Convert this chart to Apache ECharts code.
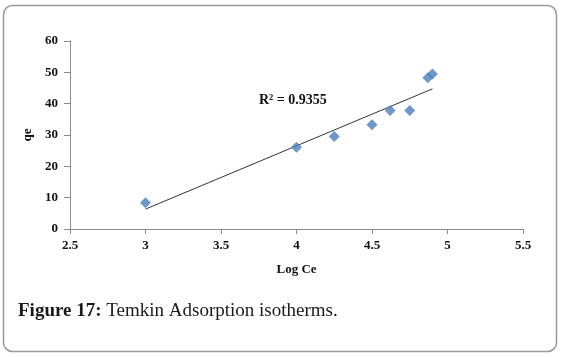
<!DOCTYPE html>
<html><head><meta charset="utf-8">
<script src="https://cdn.jsdelivr.net/npm/echarts@6/dist/echarts.min.js"></script>
<style>html,body{margin:0;padding:0;background:#fff}#c{width:561px;height:357px}</style>
</head><body><div id="c"></div>
<script>
const logCe = [3.0, 4.0, 4.25, 4.5, 4.62, 4.75, 4.87, 4.9];
const qe = [8.4, 26.1, 29.5, 33.3, 37.8, 37.8, 48.3, 49.5];
const xTicks = [2.5, 3, 3.5, 4, 4.5, 5, 5.5];
const yTicks = [0, 10, 20, 30, 40, 50, 60];
const r2Label = 'R² = 0.9355';
const caption = ['Figure 17:', ' Temkin Adsorption isotherms.'];

// least-squares trendline derived from data
const n = logCe.length;
const mx = logCe.reduce((a,b)=>a+b,0)/n, my = qe.reduce((a,b)=>a+b,0)/n;
let sxy=0,sxx=0;
for(let i=0;i<n;i++){sxy+=(logCe[i]-mx)*(qe[i]-my);sxx+=(logCe[i]-mx)**2;}
const slope=sxy/sxx, icpt=my-slope*mx;
const xmin=Math.min(...logCe), xmax=Math.max(...logCe);
const trend=[[xmin,icpt+slope*xmin],[xmax,icpt+slope*xmax]];

const chart = echarts.init(document.getElementById('c'));
const serif = '"Liberation Serif","Times New Roman",serif';
chart.setOption({
  animation:false,
  textStyle:{fontFamily:serif},
  grid:{left:70,right:38,top:41,bottom:128},
  title:{
    left:13, top:297,
    text:'{b|'+caption[0]+'}{n|'+caption[1]+'}',
    textStyle:{fontWeight:'normal',rich:{
      b:{fontFamily:serif,fontWeight:'bold',fontSize:19,color:'#1a1a1a'},
      n:{fontFamily:serif,fontWeight:'normal',fontSize:19,color:'#1a1a1a'}
    }}
  },
  xAxis:{
    type:'value', min:xTicks[0], max:xTicks[xTicks.length-1], interval:0.5,
    name:'Log Ce', nameLocation:'middle', nameGap:34,
    nameTextStyle:{fontFamily:serif,fontWeight:'bold',fontSize:13,color:'#111'},
    axisLine:{lineStyle:{color:'#8c8c8c',width:1}},
    axisTick:{show:true,length:5,lineStyle:{color:'#8c8c8c'}},
    axisLabel:{fontFamily:serif,fontWeight:'bold',fontSize:13,color:'#111',margin:10},
    splitLine:{show:false}
  },
  yAxis:{
    type:'value', min:yTicks[0], max:yTicks[yTicks.length-1], interval:10,
    name:'qe', nameLocation:'middle', nameGap:33,
    nameTextStyle:{fontFamily:serif,fontWeight:'bold',fontSize:13,color:'#111'},
    axisLine:{show:true,lineStyle:{color:'#8c8c8c',width:1}},
    axisTick:{show:true,length:6,lineStyle:{color:'#8c8c8c'}},
    axisLabel:{fontFamily:serif,fontWeight:'bold',fontSize:13,color:'#111',margin:12},
    splitLine:{show:false}
  },
  graphic:[
    {type:'rect',shape:{x:3.5,y:5.5,width:553,height:346,r:9},
     style:{fill:'none',stroke:'#9a9a9a',lineWidth:1.5},silent:true},
    {type:'text',left:259,top:93,
     style:{text:r2Label,font:'bold 14px '+serif,fill:'#111'}}
  ],
  series:[
    {type:'line',data:trend,symbol:'none',lineStyle:{color:'#333',width:1},z:1},
    {type:'scatter',data:logCe.map((x,i)=>[x,qe[i]]),symbol:'diamond',symbolSize:11,
     itemStyle:{color:'#4a7ebb'},z:2}
  ]
});
</script></body></html>
